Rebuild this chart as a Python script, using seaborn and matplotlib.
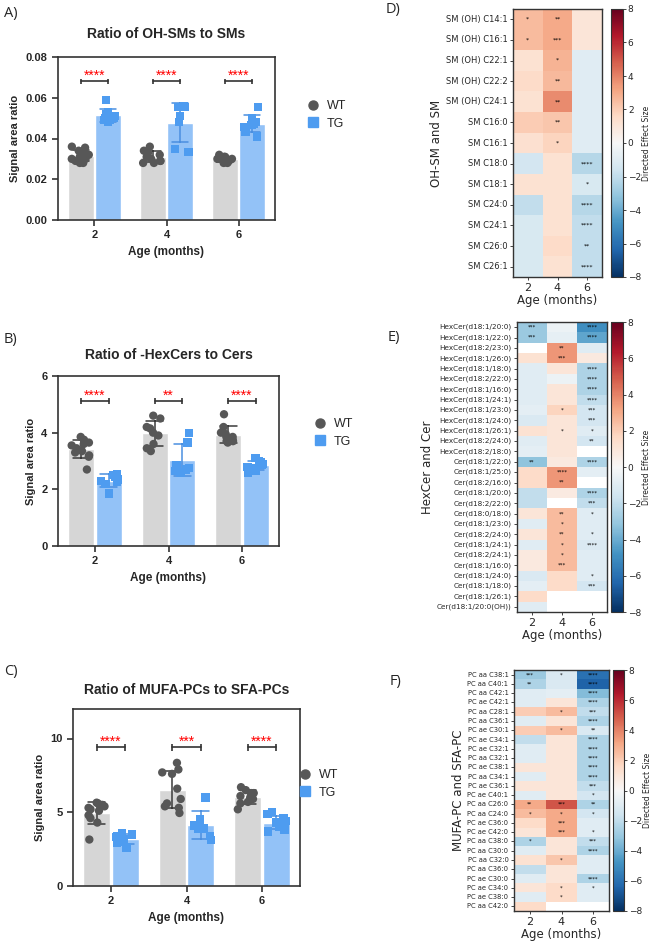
import numpy as np
import pandas as pd
import matplotlib
matplotlib.use("Agg")
import matplotlib.pyplot as plt
from matplotlib.lines import Line2D
import seaborn as sns

np.random.seed(7)

W, H = 655, 944

ages = ["2", "4", "6"]
genotypes = ["WT", "TG"]

# ---------------- bar panels: single animals per age (2, 4, 6 months) ----------------
a_wt = [[0.036, 0.0355, 0.034, 0.033, 0.032, 0.0315, 0.031, 0.030, 0.029, 0.028, 0.028, 0.030],
        [0.036, 0.034, 0.033, 0.032, 0.031, 0.030, 0.029, 0.028, 0.028, 0.029],
        [0.032, 0.031, 0.030, 0.030, 0.029, 0.029, 0.028, 0.028, 0.030, 0.031]]
a_tg = [[0.059, 0.053, 0.052, 0.051, 0.050, 0.050, 0.049, 0.049, 0.048, 0.052],
        [0.056, 0.0555, 0.051, 0.0555, 0.048, 0.0335, 0.035],
        [0.0555, 0.050, 0.049, 0.048, 0.047, 0.0465, 0.0455, 0.0435, 0.041]]
a_sig = ["****", "****", "****"]

b_wt = [[3.85, 3.75, 3.65, 3.6, 3.55, 3.45, 3.35, 3.3, 3.2, 3.15, 2.7],
        [4.6, 4.5, 4.2, 4.15, 4.0, 3.9, 3.6, 3.45, 3.35],
        [4.65, 4.2, 4.0, 3.95, 3.85, 3.75, 3.7, 3.65, 3.7, 3.85]]
b_tg = [[2.55, 2.5, 2.45, 2.35, 2.3, 2.25, 2.2, 1.85],
        [4.0, 3.65, 2.85, 2.7, 2.65, 2.6, 2.75],
        [3.1, 3.0, 2.95, 2.9, 2.85, 2.8, 2.75, 2.65, 2.6]]
b_sig = ["****", "**", "****"]

c_wt = [[5.65, 5.6, 5.5, 5.4, 5.3, 5.2, 5.1, 4.8, 4.6, 4.3, 3.15],
        [8.35, 7.9, 7.7, 7.6, 6.6, 5.9, 5.6, 5.4, 5.3, 4.95],
        [6.7, 6.5, 6.3, 6.3, 6.1, 6.0, 5.9, 5.7, 5.6, 5.2]]
c_tg = [[3.6, 3.5, 3.4, 3.3, 3.2, 3.1, 3.0, 2.9, 2.6],
        [6.0, 4.5, 4.1, 3.9, 3.9, 3.4, 3.1],
        [5.0, 4.9, 4.6, 4.4, 4.3, 4.2, 4.1, 4.0, 3.8, 3.7]]
c_sig = ["****", "***", "****"]

# ---------------- heatmaps: directed effect size per age ----------------
nan = np.nan
d_labels = ["SM (OH) C14:1", "SM (OH) C16:1", "SM (OH) C22:1", "SM (OH) C22:2", "SM (OH) C24:1",
            "SM C16:0", "SM C16:1", "SM C18:0", "SM C18:1", "SM C24:0", "SM C24:1", "SM C26:0", "SM C26:1"]
d_2m = [2.5, 2.5, 1.2, 1.5, 1.2, 2.0, 1.3, -1.5, 1.2, -2.0, -1.3, -1.3, -1.3]
d_4m = [3.0, 3.0, 2.8, 2.6, 3.8, 2.2, 1.8, 1.2, 1.2, 1.2, 1.2, 1.5, 1.2]
d_6m = [1.0, 1.0, -1.0, -1.0, -1.0, -1.0, -1.0, -2.3, -1.3, -2.3, -2.0, -2.0, -2.0]
d_star_2m = ["*", "*", "", "", "", "", "", "", "", "", "", "", ""]
d_star_4m = ["**", "***", "*", "**", "**", "**", "*", "", "", "", "", "", ""]
d_star_6m = ["", "", "", "", "", "", "", "****", "*", "****", "****", "**", "****"]

e_labels = ["HexCer(d18:1/20:0)", "HexCer(d18:1/22:0)", "HexCer(d18:2/23:0)", "HexCer(d18:1/26:0)",
            "HexCer(d18:1/18:0)", "HexCer(d18:2/22:0)", "HexCer(d18:1/16:0)", "HexCer(d18:1/24:1)",
            "HexCer(d18:1/23:0)", "HexCer(d18:1/24:0)", "HexCer(d18:1/26:1)", "HexCer(d18:2/24:0)",
            "HexCer(d18:2/18:0)", "Cer(d18:1/22:0)", "Cer(d18:1/25:0)", "Cer(d18:2/16:0)",
            "Cer(d18:1/20:0)", "Cer(d18:2/22:0)", "Cer(d18:0/18:0)", "Cer(d18:1/23:0)",
            "Cer(d18:2/24:0)", "Cer(d18:1/24:1)", "Cer(d18:2/24:1)", "Cer(d18:1/16:0)",
            "Cer(d18:1/24:0)", "Cer(d18:1/18:0)", "Cer(d18:1/26:1)", "Cer(d18:1/20:0(OH))"]
e_2m = [-3.0, -3.0, nan, 1.2, -1.0, -1.0, -1.0, -1.0, -0.8, -1.2, 1.2, -1.0, -0.8, -3.2,
        1.5, 1.5, -2.0, -2.0, 1.0, -1.0, 1.0, -1.0, 0.8, 0.8, -1.2, -0.8, 1.5, -1.0]
e_4m = [-0.5, -0.7, 3.5, 3.5, 1.0, -0.5, 1.0, 1.0, 1.8, 1.0, 1.0, 1.0, 1.0, 0.8,
        3.5, 3.5, 0.7, nan, 2.5, 2.5, 2.5, 2.5, 2.5, 2.5, 1.5, 1.5, nan, nan]
e_6m = [-5.0, -4.2, -1.0, 0.8, -2.5, -2.5, -2.5, -2.0, -1.5, -1.5, -1.0, -1.5, nan, -2.5,
        -0.8, nan, -2.5, -2.0, -1.0, -1.0, -1.0, -1.2, -1.0, -1.0, -1.0, -1.5, nan, nan]
e_star_2m = ["***", "***", "", "", "", "", "", "", "", "", "", "", "", "**",
             "", "", "", "", "", "", "", "", "", "", "", "", "", ""]
e_star_4m = ["", "", "**", "***", "", "", "", "", "*", "", "*", "", "", "",
             "****", "**", "", "", "**", "*", "**", "*", "*", "***", "", "", "", ""]
e_star_6m = ["****", "****", "", "", "****", "****", "****", "****", "***", "***", "*", "**", "", "****",
             "", "", "****", "***", "*", "", "*", "****", "", "", "*", "***", "", ""]

f_labels = ["PC aa C38:1", "PC aa C40:1", "PC aa C42:1", "PC ae C42:1", "PC aa C28:1", "PC aa C36:1",
            "PC ae C30:1", "PC ae C34:1", "PC ae C32:1", "PC aa C32:1", "PC ae C38:1", "PC aa C34:1",
            "PC ae C36:1", "PC ae C40:1", "PC aa C26:0", "PC aa C24:0", "PC ae C36:0", "PC ae C42:0",
            "PC aa C38:0", "PC aa C30:0", "PC aa C32:0", "PC aa C36:0", "PC ae C30:0", "PC ae C34:0",
            "PC ae C38:0", "PC aa C42:0"]
f_2m = [-3.0, -2.5, -1.0, -1.0, 2.0, -1.0, 2.0, -2.0, -1.0, -1.0, 1.0, -1.0, 1.0,
        -1.0, 3.0, 2.5, 1.5, 1.0, -2.5, -1.0, 1.2, -2.0, -1.0, 1.0, -1.0, 1.5]
f_4m = [-1.2, -1.2, -0.8, 1.0, 2.5, 1.0, 2.5, 1.0, 1.0, 1.0, 1.0, 1.0, 1.0,
        1.0, 5.0, 3.0, 3.0, 3.0, 1.0, 1.0, 2.2, 1.0, 1.0, 1.5, 1.5, nan]
f_6m = [-6.0, -6.5, -3.5, -2.5, -2.0, -2.5, -1.2, -2.5, -2.5, -2.5, -2.5, -2.5, -2.0,
        -1.5, -2.5, -1.5, -1.0, -1.0, -2.0, -2.5, -1.0, -1.0, -2.5, -1.0, -1.0, nan]
f_star_2m = ["***", "**", "", "", "", "", "", "", "", "", "", "", "",
             "", "**", "*", "", "", "*", "", "", "", "", "", "", ""]
f_star_4m = ["*", "", "", "", "*", "", "*", "", "", "", "", "", "",
             "", "***", "*", "***", "***", "", "", "*", "", "", "*", "*", ""]
f_star_6m = ["****", "****", "****", "****", "***", "****", "**", "****", "****", "****", "****", "****", "***",
             "*", "**", "*", "", "*", "***", "****", "", "", "****", "*", "", ""]

bar_pal = {"WT": "#d6d6d6", "TG": "#93c2f7"}
pt_pal = {"WT": "#575757", "TG": "#4e9cf0"}
err_pal = {"WT": "#3a3a3a", "TG": "#4a8fe0"}
BAR_FONT = "Liberation Sans"

sns.set_style("ticks")
plt.rcParams["font.family"] = ["DejaVu Sans"]

fig = plt.figure(figsize=(W / 100, H / 100), dpi=100)


def px_axes(l, t, r, b):
    return fig.add_axes([l / W, 1 - b / H, (r - l) / W, (b - t) / H])


def bar_panel(ax, wt, tg, sig, sig_y, title, ymax, yticks, ylabels, pad):
    rows = []
    for g, vals in (("WT", wt), ("TG", tg)):
        for age, vv in zip(ages, vals):
            rows += [{"age": age, "geno": g, "val": v} for v in vv]
    df = pd.DataFrame(rows)
    sns.barplot(data=df, x="age", y="val", hue="geno", order=ages, hue_order=genotypes,
                palette=bar_pal, saturation=1, width=0.75, gap=0.05, errorbar="sd",
                capsize=0.45, err_kws={"linewidth": 1.1}, legend=False, ax=ax)
    for ln in ax.lines:
        xd = np.asarray(ln.get_xdata(), dtype=float)
        if not np.isfinite(xd).any():
            continue
        xm = np.nanmean(xd)
        ln.set_color(err_pal["WT"] if xm < round(xm) else err_pal["TG"])
    for g, mk in zip(genotypes, ["o", "s"]):
        sns.stripplot(data=df[df["geno"] == g], x="age", y="val", hue="geno", order=ages,
                      hue_order=genotypes, palette=pt_pal, dodge=True, jitter=0.26, marker=mk,
                      size=6, linewidth=0, legend=False, ax=ax, zorder=3)

    # significance brackets
    centers = sorted(p.get_x() + p.get_width() / 2 for p in ax.patches)
    d = ymax * 0.018
    for i, s in enumerate(sig):
        x0, x1 = centers[2 * i], centers[2 * i + 1]
        ax.plot([x0, x1], [sig_y, sig_y], color="#333333", lw=1.2)
        ax.vlines([x0, x1], sig_y - d, sig_y + d, color="#333333", lw=1.2)
        ax.text((x0 + x1) / 2, sig_y + d * 0.4, s, ha="center", va="baseline",
                color="red", fontsize=10, family=BAR_FONT)

    ax.set_ylim(0, ymax)
    ax.set_yticks(yticks)
    ax.set_yticklabels(ylabels)
    ax.set_title(title, fontsize=10, fontweight="bold", family=BAR_FONT, pad=pad)
    ax.set_xlabel("Age (months)", fontsize=8.5, fontweight="bold", family=BAR_FONT, labelpad=4)
    ax.set_ylabel("Signal area ratio", fontsize=8, fontweight="bold", family=BAR_FONT)
    for sp in ax.spines.values():
        sp.set_visible(True)
        sp.set_color("#333333")
        sp.set_linewidth(1.2)
    ax.tick_params(length=4, width=1.2, color="#333333", labelsize=8)
    plt.setp(ax.get_xticklabels() + ax.get_yticklabels(), fontweight="bold", family=BAR_FONT)


def bar_legend(x, y):
    handles = [Line2D([], [], ls="", marker="o", color=pt_pal["WT"], markersize=6.5),
               Line2D([], [], ls="", marker="s", color=pt_pal["TG"], markersize=6.5)]
    fig.legend(handles, genotypes, loc="center left", bbox_to_anchor=(x / W, 1 - y / H),
               frameon=False, borderaxespad=0, borderpad=0, handlelength=1,
               handletextpad=0.6, labelspacing=0.45, prop={"family": BAR_FONT, "size": 9})


def heat_panel(ax, cax, labels, cols, stars, ylabel, lab_size, star_size):
    df = pd.DataFrame(dict(zip(ages, cols)), index=labels)
    ann = np.array(stars, dtype=object).T
    sns.heatmap(df, ax=ax, cbar_ax=cax, cmap="RdBu_r", vmin=-8, vmax=8, annot=ann, fmt="",
                annot_kws={"size": star_size, "color": "black"}, yticklabels=labels,
                cbar_kws={"ticks": list(range(-8, 9, 2))})
    for sp in ax.spines.values():
        sp.set_visible(True)
        sp.set_color("#333333")
        sp.set_linewidth(1.0)
    ax.tick_params(axis="y", labelsize=lab_size, length=2.5, width=0.6, rotation=0, pad=1.5)
    ax.tick_params(axis="x", labelsize=8, length=2.5, width=0.6, rotation=0, pad=1.5)
    ax.set_xlabel("Age (months)", fontsize=8.5, labelpad=1)
    ax.set_ylabel(ylabel, fontsize=8.5, labelpad=2)
    cbar = ax.collections[0].colorbar
    cbar.outline.set_edgecolor("#333333")
    cbar.outline.set_linewidth(0.8)
    cbar.ax.tick_params(labelsize=6.5, length=2.5, width=0.6, pad=1)
    cbar.set_label("Directed Effect Size", fontsize=5.5, labelpad=0.5)


# ---- A
ax_a = px_axes(58, 57, 275, 220)
bar_panel(ax_a, a_wt, a_tg, a_sig, 0.068, "Ratio of OH-SMs to SMs", 0.08,
          [0, 0.02, 0.04, 0.06, 0.08], ["0.00", "0.02", "0.04", "0.06", "0.08"], 14)
bar_legend(307, 115)

# ---- B
ax_b = px_axes(58, 376, 279, 546)
bar_panel(ax_b, b_wt, b_tg, b_sig, 5.13, "Ratio of -HexCers to Cers", 6,
          [0, 2, 4, 6], ["0", "2", "4", "6"], 12)
bar_legend(314, 433)

# ---- C
ax_c = px_axes(73, 709, 300, 886)
bar_panel(ax_c, c_wt, c_tg, c_sig, 9.4, "Ratio of MUFA-PCs to SFA-PCs", 12,
          [0, 5, 10], ["0", "5", "10"], 11)
bar_legend(299, 784)

# ---- D, E, F
heat_panel(px_axes(513, 9, 602, 277), px_axes(611, 9, 623, 277), d_labels,
           [d_2m, d_4m, d_6m], [d_star_2m, d_star_4m, d_star_6m], "OH-SM and SM", 6, 4.5)
heat_panel(px_axes(517, 322, 607, 612), px_axes(611, 322, 623, 612), e_labels,
           [e_2m, e_4m, e_6m], [e_star_2m, e_star_4m, e_star_6m], "HexCer and Cer", 5.2, 4)
heat_panel(px_axes(514, 670, 609, 911), px_axes(613, 670, 624, 911), f_labels,
           [f_2m, f_4m, f_6m], [f_star_2m, f_star_4m, f_star_6m], "MUFA-PC and SFA-PC", 4.9, 3.8)

# panel letters
for lab, x, y in [("A)", 4, 13), ("B)", 4, 339), ("C)", 4, 672),
                  ("D)", 386, 10), ("E)", 388, 338), ("F)", 390, 682)]:
    fig.text(x / W, 1 - y / H, lab, fontsize=10.5, family="Open Sans", va="center", ha="left")

fig.savefig("out.png", dpi=100)
